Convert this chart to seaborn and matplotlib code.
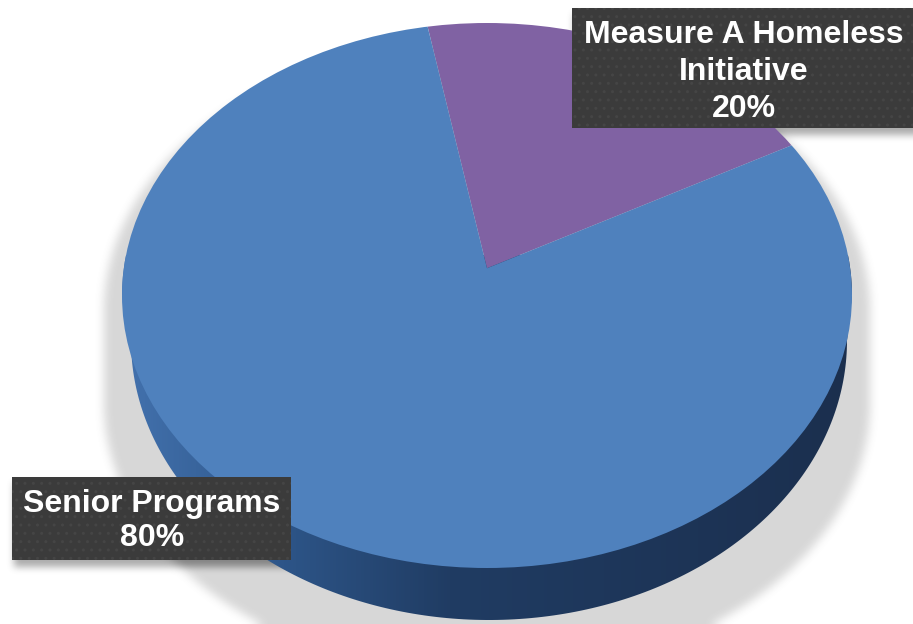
import numpy as np
import matplotlib
matplotlib.use("Agg")
import matplotlib.pyplot as plt
from matplotlib.patches import Circle, Rectangle, Polygon
from matplotlib.colors import LinearSegmentedColormap
import seaborn as sns

# ---- data -------------------------------------------------------------
categories = ["Measure A Homeless\nInitiative", "Senior Programs"]
shares = [20, 80]
slice_colors = ["#8062A3", "#4F81BD"]

sns.set_theme(style="white")
plt.rcParams["font.family"] = ["Liberation Sans", "DejaVu Sans"]

W, H = 913, 624
fig = plt.figure(figsize=(W / 100, H / 100), dpi=100)
fig.patch.set_facecolor("white")

# background axes in pixel units (y grows downwards)
bg = fig.add_axes([0, 0, 1, 1])
bg.set_xlim(0, W)
bg.set_ylim(H, 0)
bg.axis("off")

# geometry of the tilted disc
cx, cy, rx, ry = 487, 295.5, 365, 272.5
bcx, bcy, brx, bry = 489, cy + 45, 358, 279.5   # lower rim of the disc


def box_blur(a, r, passes=3):
    for _ in range(passes):
        for axis in (0, 1):
            pad = [(0, 0), (0, 0)]
            pad[axis] = (r + 1, r)
            p = np.pad(a, pad, mode="edge")
            c = np.cumsum(p, axis=axis)
            if axis == 0:
                a = (c[2 * r + 1:] - c[:-2 * r - 1]) / (2 * r + 1)
            else:
                a = (c[:, 2 * r + 1:] - c[:, :-2 * r - 1]) / (2 * r + 1)
    return a


yy, xx = np.mgrid[0:H, 0:W] + 0.5

# soft drop shadow under the disc
disc = np.zeros((H, W), bool)
for off in range(15, 110, 3):
    disc |= ((xx - cx) / (rx + 18)) ** 2 + ((yy - (cy + off)) / ry) ** 2 <= 1
disc_sh = box_blur(disc.astype(float), 4) * 0.24

# drop shadows under the two label boxes
boxes = [(572, 8, 960, 128), (12, 477, 291, 560)]
box_mask = np.zeros((H, W))
for x0, y0, x1, y1 in boxes:
    box_mask[(xx > x0 + 2) & (xx < x1 + 3) & (yy > y0 + 6) & (yy < y1 + 7)] = 1
box_sh = box_blur(box_mask, 3) * 0.5

alpha = np.clip(disc_sh + box_sh, 0, 1)
shadow = np.zeros((H, W, 4))
shadow[..., :3] = 0.35
shadow[..., 3] = alpha
bg.imshow(shadow, extent=(0, W, H, 0), zorder=1, interpolation="bilinear")

# side wall of the disc, shaded from left to right
t = np.linspace(0, np.pi, 200)
upper = np.column_stack([cx - rx * np.cos(t), cy - ry * np.sin(t)])
lower = np.column_stack([bcx + brx * np.cos(t), bcy + bry * np.sin(t)])
wall = Polygon(np.vstack([upper, lower]), closed=True, transform=bg.transData,
               facecolor="none", edgecolor="none")
bg.add_patch(wall)
side_cmap = LinearSegmentedColormap.from_list(
    "side", [(0.0, "#4372AE"), (0.22, "#2D5588"), (0.45, "#203C63"), (1.0, "#1B2F4E")])
grad = np.linspace(0, 1, 512)[None, :]
im = bg.imshow(grad, cmap=side_cmap, aspect="auto",
               extent=(cx - rx, cx + rx, H, cy - 40), zorder=2)
im.set_clip_path(wall)

# top face: the pie itself, squeezed into the ellipse
pie_ax = fig.add_axes([(cx - rx) / W, (H - (cy + ry)) / H, 2 * rx / W, 2 * ry / H])
pie_ax.set_zorder(3)
pie_ax.patch.set_alpha(0)
wedges, _ = pie_ax.pie(shares, colors=slice_colors, startangle=100.4,
                       counterclock=False, center=(0, 0.10), radius=1.6,
                       wedgeprops=dict(linewidth=0, antialiased=True))
pie_ax.set_aspect("auto")
pie_ax.set_xlim(-1, 1)
pie_ax.set_ylim(-1, 1)
pie_ax.axis("off")
rim = Circle((0, 0), 1, transform=pie_ax.transData)
for w in wedges:
    w.set_clip_on(True)
    w.set_clip_path(rim)

# overlay axes for the callout boxes
top = fig.add_axes([0, 0, 1, 1])
top.set_zorder(4)
top.patch.set_alpha(0)
top.set_xlim(0, W)
top.set_ylim(H, 0)
top.axis("off")

plt.rcParams["hatch.linewidth"] = 1.0
label_specs = [
    (boxes[0], 744, [43, 80, 117]),
    (boxes[1], 152, [512, 546]),
]

for (cat, val), ((x0, y0, x1, y1), xc, baselines) in zip(zip(categories, shares), label_specs):
    top.add_patch(Rectangle((x0, y0), x1 - x0, y1 - y0, facecolor="#3B3B3B",
                            edgecolor="#454545", hatch="..", linewidth=0))
    lines = cat.split("\n") + [f"{val}%"]
    for txt, yb in zip(lines, baselines):
        top.text(xc, yb, txt, ha="center", va="baseline", color="white",
                 fontsize=23, fontweight="bold")

fig.savefig("out.png", dpi=100, facecolor="white")
